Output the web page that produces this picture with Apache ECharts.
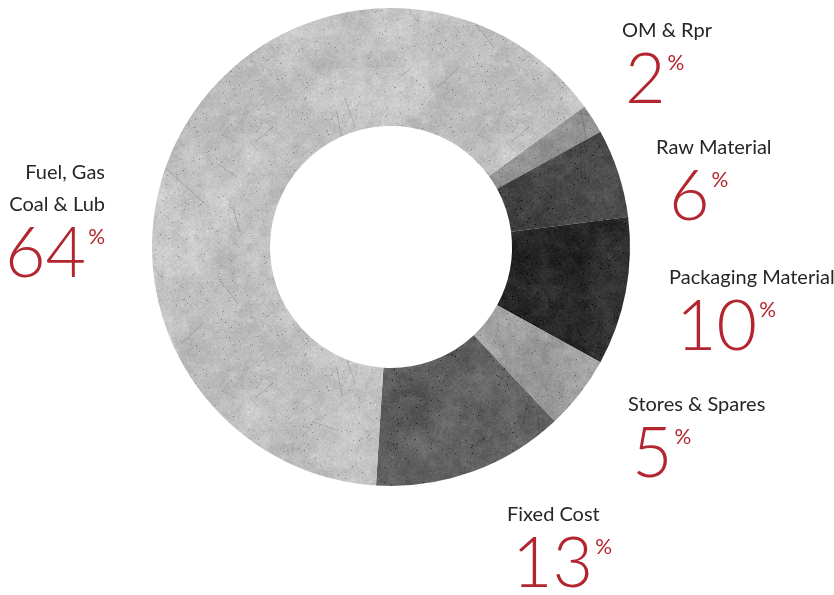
<!DOCTYPE html>
<html>
<head>
<meta charset="utf-8">
<title>Cost Breakdown</title>
<script src="https://cdn.jsdelivr.net/npm/echarts@6/dist/echarts.min.js"></script>
<style>
  html, body { margin: 0; padding: 0; background: #ffffff; }
  #chart { width: 834px; height: 595px; }
</style>
</head>
<body>
<div id="chart"></div>
<script>
// Cost categories, clockwise from the upper-right edge of the ring
const categories = ['OM & Rpr', 'Raw Material', 'Packaging Material', 'Stores & Spares', 'Fixed Cost', 'Fuel, Gas\nCoal & Lub'];
const shares = [2, 6, 10, 5, 13, 64];

// Grey tone of each slice (concrete look)
const sliceTones = ['#8e8e8e', '#464646', '#2a2a2a', '#9e9e9e', '#5e5e5e', '#c2c2c2'];

// Where each label block sits (top edge, left or right edge) and how far the number is indented
const labelSpots = [
  { x: 622, y: 15,  align: 'left',  indent: 3 },
  { x: 656, y: 132, align: 'left',  indent: 13 },
  { x: 669, y: 262, align: 'left',  indent: 7 },
  { x: 628, y: 389, align: 'left',  indent: 4 },
  { x: 507, y: 499, align: 'left',  indent: 5 },
  { x: 105, y: 157, align: 'right', indent: 0 }
];

const FONT = 'Lato, "Open Sans", sans-serif';
const RED = '#b3262f';
const INK = '#262626';

// Deterministic integer hash -> [0,1)
function hash(x, y, s) {
  let h = (x * 374761393 + y * 668265263 + s * 982451653) | 0;
  h = Math.imul(h ^ (h >>> 13), 1274126177);
  h = h ^ (h >>> 16);
  return ((h >>> 0) % 100000) / 100000;
}

// Smooth, tileable value noise on a grid of the given cell size
function smooth(x, y, cell, size, seed) {
  const cells = size / cell;
  const gx = x / cell, gy = y / cell;
  const x0 = Math.floor(gx), y0 = Math.floor(gy);
  let fx = gx - x0, fy = gy - y0;
  fx = fx * fx * (3 - 2 * fx);
  fy = fy * fy * (3 - 2 * fy);
  const v = (i, j) => hash((x0 + i) % cells, (y0 + j) % cells, seed);
  const a = v(0, 0) * (1 - fx) + v(1, 0) * fx;
  const b = v(0, 1) * (1 - fx) + v(1, 1) * fx;
  return a * (1 - fy) + b * fy;
}

// Tileable concrete-like texture for a slice
function concrete(hex, seed) {
  const size = 256;
  const c = document.createElement('canvas');
  c.width = c.height = size;
  const ctx = c.getContext('2d');
  const img = ctx.createImageData(size, size);
  const base = parseInt(hex.slice(1, 3), 16);
  for (let y = 0; y < size; y++) {
    for (let x = 0; x < size; x++) {
      let v = base
        + (smooth(x, y, 32, size, seed + 5) - 0.5) * 22
        + (smooth(x, y, 8, size, seed + 9) - 0.5) * 16
        + (smooth(x, y, 2, size, seed + 13) - 0.5) * 14
        + (hash(x, y, seed) - 0.5) * 12;
      const r = hash(x, y, seed + 3);
      if (r < 0.007) v -= 55;
      else if (r > 0.994) v += 20;
      v = Math.max(0, Math.min(255, v));
      const k = (y * size + x) * 4;
      img.data[k] = img.data[k + 1] = img.data[k + 2] = v;
      img.data[k + 3] = 255;
    }
  }
  ctx.putImageData(img, 0, 0);
  // faint scratches
  ctx.lineWidth = 0.8;
  for (let i = 0; i < 12; i++) {
    const x1 = hash(i, 1, seed + 11) * size, y1 = hash(i, 2, seed + 11) * size;
    const ang = hash(i, 3, seed + 11) * Math.PI * 2, len = 12 + hash(i, 4, seed + 11) * 45;
    ctx.strokeStyle = 'rgba(0,0,0,0.2)';
    ctx.beginPath();
    ctx.moveTo(x1, y1);
    ctx.lineTo(x1 + Math.cos(ang) * len, y1 + Math.sin(ang) * len);
    ctx.stroke();
  }
  return c;
}

function richFor(indent) {
  return {
    name: { fontFamily: FONT, fontSize: 20, lineHeight: 32, color: INK },
    num:  { fontFamily: FONT, fontSize: 70, fontWeight: 300, lineHeight: 66, color: RED, padding: [0, 0, 0, indent] },
    pct:  { fontFamily: FONT, fontSize: 21, fontWeight: 400, lineHeight: 24, color: RED, verticalAlign: 'top', padding: [6, 0, 0, 2] }
  };
}

const chart = echarts.init(document.getElementById('chart'), null, { renderer: 'canvas' });

chart.setOption({
  animation: false,
  backgroundColor: '#ffffff',
  series: [{
    type: 'pie',
    center: [391, 247],
    radius: [121, 239],
    startAngle: 36,
    clockwise: true,
    silent: true,
    avoidLabelOverlap: false,
    itemStyle: { borderWidth: 0 },
    label: {
      show: true,
      position: 'outside',
      formatter: p => p.name.split('\n').map(s => '{name|' + s + '}').join('\n') +
        '\n{num|' + p.value + '}{pct|%}',
      rich: richFor(0)
    },
    labelLine: { show: false },
    labelLayout: p => {
      const s = labelSpots[p.dataIndex];
      return { x: s.x, y: s.y, align: s.align, verticalAlign: 'top' };
    },
    data: categories.map((name, i) => ({
      name: name,
      value: shares[i],
      itemStyle: { color: { image: concrete(sliceTones[i], i + 1), repeat: 'repeat' } },
      label: { align: labelSpots[i].align, rich: richFor(labelSpots[i].indent) }
    }))
  }]
});
</script>
</body>
</html>
